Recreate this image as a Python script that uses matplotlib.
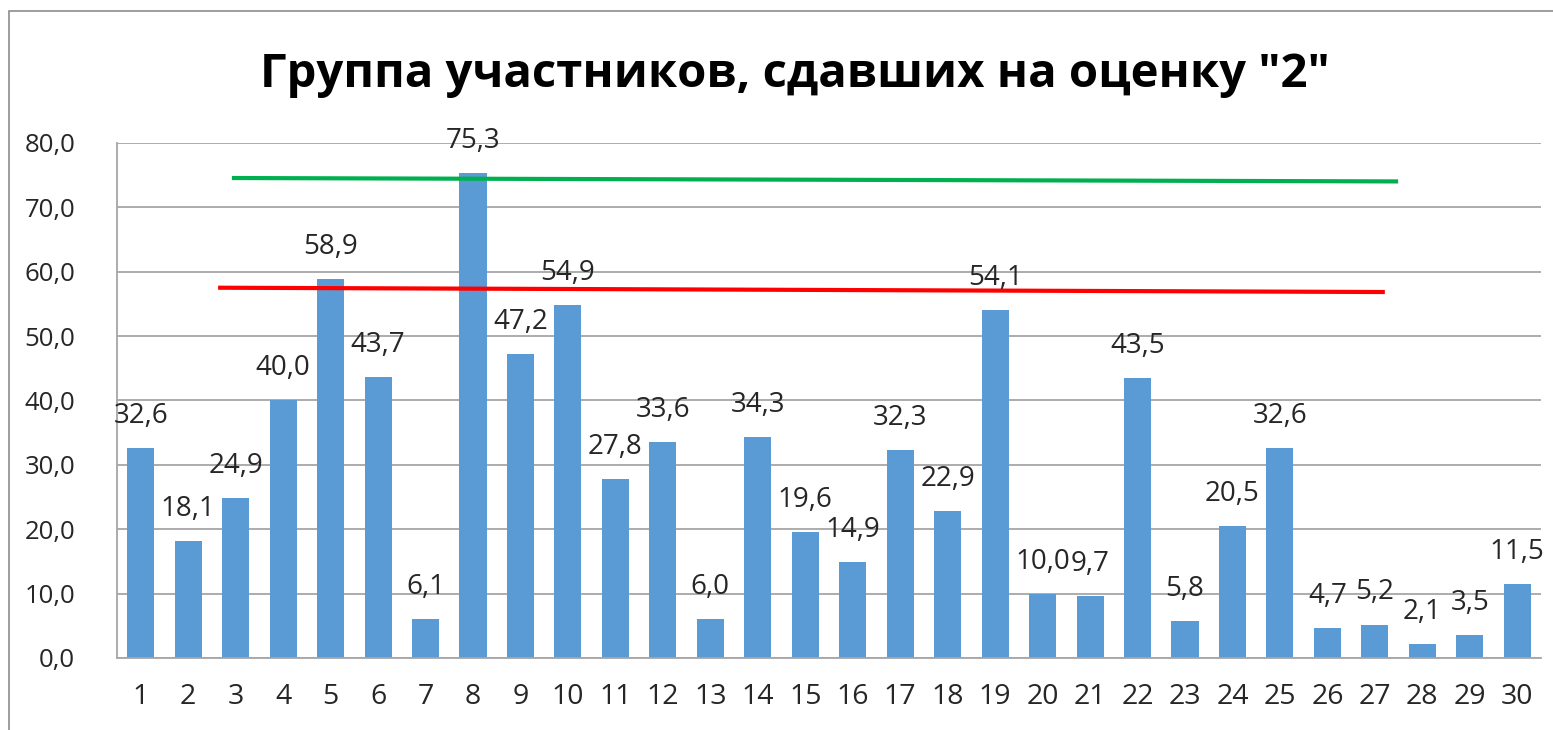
import matplotlib.pyplot as plt
from matplotlib.patches import Rectangle

plt.rcParams['font.family'] = ['Open Sans', 'DejaVu Sans']

# номера участников и доля "2"
nums = list(range(1, 31))
vals = [32.6, 18.1, 24.9, 40.0, 58.9, 43.7, 6.1, 75.3, 47.2, 54.9,
        27.8, 33.6, 6.0, 34.3, 19.6, 14.9, 32.3, 22.9, 54.1, 10.0,
        9.7, 43.5, 5.8, 20.5, 32.6, 4.7, 5.2, 2.1, 3.5, 11.5]

# две линии поверх столбцов (x в номерах участников)
green_x = [2.92, 27.49]
green_y = [74.56, 74.03]
red_x = [2.63, 27.21]
red_y = [57.52, 56.85]

yticks = [0, 10, 20, 30, 40, 50, 60, 70, 80]


def fmt(v):
    return ('%.1f' % v).replace('.', ',')


def main():
    fig = plt.figure(figsize=(15.53, 7.30), dpi=100)
    # рамка диаграммы
    fig.patches.append(Rectangle((9 / 1553, -0.1), 1.2, 1 - 11 / 730 + 0.1,
                                 transform=fig.transFigure, fill=False,
                                 edgecolor='#8c8c8c', linewidth=1.2))
    ax = fig.add_axes([117 / 1553, 1 - 658 / 730, (1541 - 117) / 1553, (658 - 143) / 730])

    ax.bar(nums, vals, width=0.57, color='#5B9BD5', zorder=2)
    for x, v in zip(nums, vals):
        ax.annotate(fmt(v), (x, v), xytext=(0, 13), textcoords='offset points',
                    ha='center', va='bottom', fontsize=20, color='#262626', zorder=4)

    ax.plot(green_x, green_y, color='#00B050', linewidth=3, zorder=3, solid_capstyle='butt')
    ax.plot(red_x, red_y, color='#FF0000', linewidth=3, zorder=3, solid_capstyle='butt')

    ax.set_xlim(0.5, 30.5)
    ax.set_ylim(0, 80)
    ax.set_xticks(nums)
    ax.set_xticklabels([str(n) for n in nums])
    ax.set_yticks(yticks)
    ax.set_yticklabels([fmt(t) for t in yticks])
    ax.tick_params(length=0, labelcolor='#262626')
    ax.tick_params(axis='x', pad=18, labelsize=20.5)
    ax.tick_params(axis='y', pad=30, labelsize=18.5)
    ax.yaxis.grid(True, color='#A6A6A6', linewidth=1.3, zorder=0)
    ax.set_axisbelow(True)
    for s in ['top', 'right']:
        ax.spines[s].set_visible(False)
    for s in ['left', 'bottom']:
        ax.spines[s].set_color('#A6A6A6')
        ax.spines[s].set_linewidth(1.3)

    fig.text(795 / 1553, 1 - 75 / 730, 'Группа участников, сдавших на оценку "2"',
             ha='center', va='center', fontsize=34, fontweight='bold', color='black')

    fig.savefig('out.png', dpi=100)


if __name__ == '__main__':
    main()
